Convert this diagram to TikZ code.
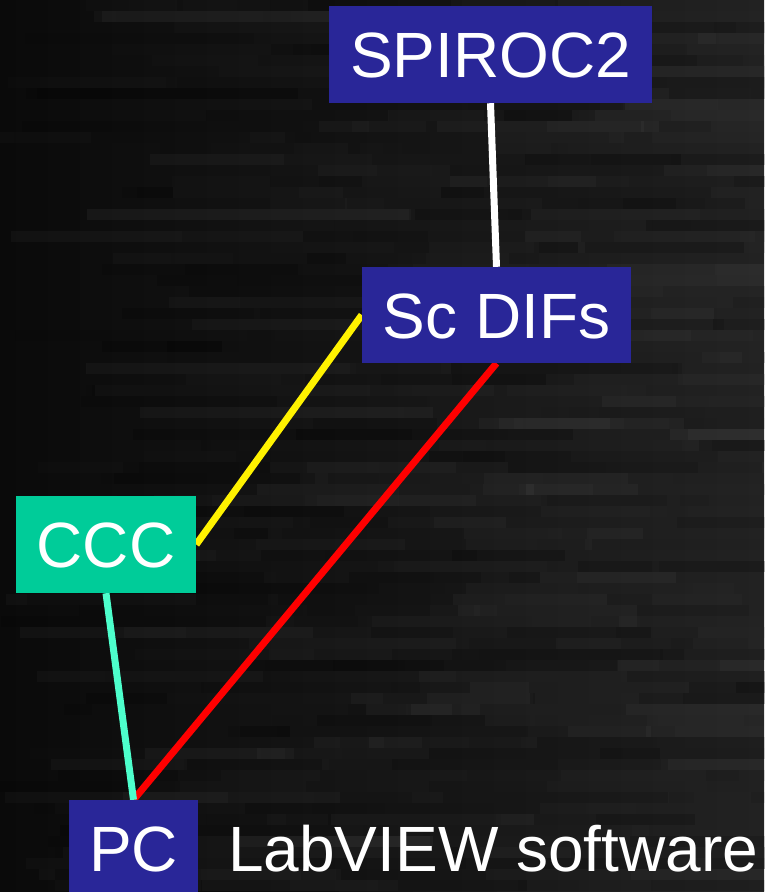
\documentclass[tikz,border=0pt]{standalone}
\usepackage{fontspec}
\setmainfont{Liberation Sans}
\definecolor{boxblue}{RGB}{41,38,152}
\definecolor{cccgreen}{RGB}{0,204,153}
\definecolor{aqualine}{RGB}{77,255,204}
\definecolor{bgleft}{RGB}{10,10,10}
\definecolor{bgright}{RGB}{34,34,34}
\pgfdeclarelayer{bg}
\pgfdeclarelayer{edges}
\pgfsetlayers{bg,edges,main}
\tikzset{
  chip/.style={fill=boxblue, text=white, inner sep=0pt, text height=46pt, text depth=0pt,
    font=\fontsize{64}{64}\selectfont},
  greenchip/.style={chip, fill=cccgreen},
  link/.style={line width=7pt},
  caption/.style={text=white, inner sep=0pt, font=\fontsize{64}{64}\selectfont}
}
\begin{document}
\begin{tikzpicture}[x=1pt,y=-1pt]
\useasboundingbox (0,0) rectangle (764,892);
\begin{pgfonlayer}{bg}
  \shade[left color=bgleft, right color=bgright] (0,0) rectangle (764,892);
  \pgfmathsetseed{11}
  \foreach \r in {0,...,81} {
    \pgfmathsetmacro\yy{\r*11}
    \foreach \k in {1,...,3} {
      \pgfmathsetmacro\xa{random(0,720)}
      \pgfmathsetmacro\len{random(100,400)}
      \pgfmathsetmacro\op{rnd*0.035}
      \fill[white, opacity=\op] (\xa,\yy) rectangle ++(\len,11);
      \pgfmathsetmacro\xb{random(0,720)}
      \pgfmathsetmacro\lb{random(100,400)}
      \pgfmathsetmacro\ob{rnd*0.2}
      \fill[black, opacity=\ob] (\xb,\yy) rectangle ++(\lb,11);
    }
  }
\end{pgfonlayer}

\node[chip, minimum width=323pt, minimum height=97pt] (spiroc) at (490.5,54.5) {SPIROC2};
\node[chip, minimum width=269pt, minimum height=96pt] (scdifs) at (496.5,315) {Sc DIFs};
\node[greenchip, minimum width=180pt, minimum height=97pt] (ccc) at (106,544.5) {CCC};
\node[chip, minimum width=129pt, minimum height=96pt] (pc) at (133.5,848) {PC};
\node[caption, anchor=base west] (lab) at (228,871) {LabVIEW software};

\begin{pgfonlayer}{edges}
  \draw[link, white] (spiroc.south) -- (scdifs.north);
  \draw[link, yellow] (ccc.east) -- (scdifs.west);
  \draw[link, red] (scdifs.south) -- (pc.north);
  \draw[link, aqualine] (ccc.south) -- (pc.north);
\end{pgfonlayer}
\end{tikzpicture}
\end{document}
